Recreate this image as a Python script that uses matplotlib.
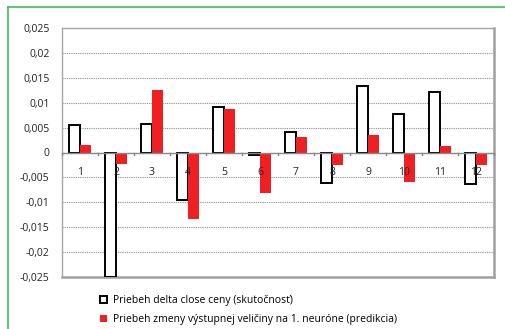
import matplotlib
matplotlib.use("Agg")
import matplotlib.pyplot as plt
import numpy as np
from matplotlib.lines import Line2D
from matplotlib.patches import Patch

categories = ["1", "2", "3", "4", "5", "6", "7", "8", "9", "10", "11", "12"]
actual = [0.0055, -0.025, 0.0057, -0.0095, 0.0092, -0.0006, 0.0042, -0.0061, 0.0134, 0.0077, 0.0122, -0.0064]
predicted = [0.0015, -0.0023, 0.0125, -0.0134, 0.0087, -0.0082, 0.0032, -0.0026, 0.0036, -0.0060, 0.0013, -0.0025]
yticks = [-0.025, -0.02, -0.015, -0.01, -0.005, 0, 0.005, 0.01, 0.015, 0.02, 0.025]
legend_labels = ["Priebeh delta close ceny (skutočnosť)",
                 "Priebeh zmeny výstupnej veličiny na 1. neuróne (predikcia)"]

plt.rcParams['font.family'] = ['Open Sans', 'DejaVu Sans']

W, H = 506, 329
fig = plt.figure(figsize=(W / 100, H / 100), dpi=100)
ax = fig.add_axes([62 / W, 1 - 277 / H, (494 - 62) / W, (277 - 28) / H])

x = np.arange(len(categories))
bw = 0.3
red = "#ee2024"
ax.bar(x - bw / 2, actual, width=bw, facecolor="white", edgecolor="black", linewidth=1.4, zorder=3)
ax.bar(x + bw / 2, predicted, width=bw, facecolor=red, edgecolor="none", zorder=3)

ax.set_xlim(-0.5, len(categories) - 0.5)
ax.set_ylim(-0.025, 0.025)
ax.set_yticks(yticks)
ax.set_yticklabels([("%g" % v).replace(".", ",") if v != 0 else "0" for v in
                    [round(t, 3) for t in yticks]], fontsize=7.5, color="#222222")
ax.tick_params(axis="y", length=0, pad=9)
ax.set_xticks([])

for t in yticks:
    if t != 0 and abs(t) < 0.025:
        ax.axhline(t, color="#8c8c8c", linestyle=(0, (1, 1)), linewidth=0.8, zorder=1)

# zero axis line with category tick marks
ax.axhline(0, color="#888888", linewidth=1.0, zorder=4)
for b in np.arange(-0.5, len(categories) + 0.5, 1.0):
    ax.plot([b, b], [0, -0.0006], color="#888888", linewidth=1.0, zorder=4, clip_on=False)
for xi, lab in zip(x, categories):
    ax.text(xi, -0.0041, lab, ha="center", va="center", fontsize=7.5, color="#222222", zorder=5)

for side in ["left", "top"]:
    ax.spines[side].set_color("#a6a6a6")
    ax.spines[side].set_linewidth(1.0)
for side in ["right", "bottom"]:
    ax.spines[side].set_color("#a0a0a0")
    ax.spines[side].set_linewidth(1.8)

handles = [Patch(facecolor="white", edgecolor="black", linewidth=1.4),
           Patch(facecolor=red, edgecolor="none")]
fig.legend(handles, legend_labels, loc="upper left", bbox_to_anchor=(96 / W, 1 - 291 / H),
           frameon=False, fontsize=7.5, handlelength=0.7, handleheight=0.7, handletextpad=0.5,
           labelspacing=0.75, borderaxespad=0)

# green frame of the chart area
fig.add_artist(Line2D([8 / W, 8 / W], [0, 1 - 7 / H], color="#3dbf5a", linewidth=1.2))
fig.add_artist(Line2D([8 / W, 1], [1 - 7 / H, 1 - 7 / H], color="#3dbf5a", linewidth=1.2))

fig.savefig("out.png", dpi=100)
